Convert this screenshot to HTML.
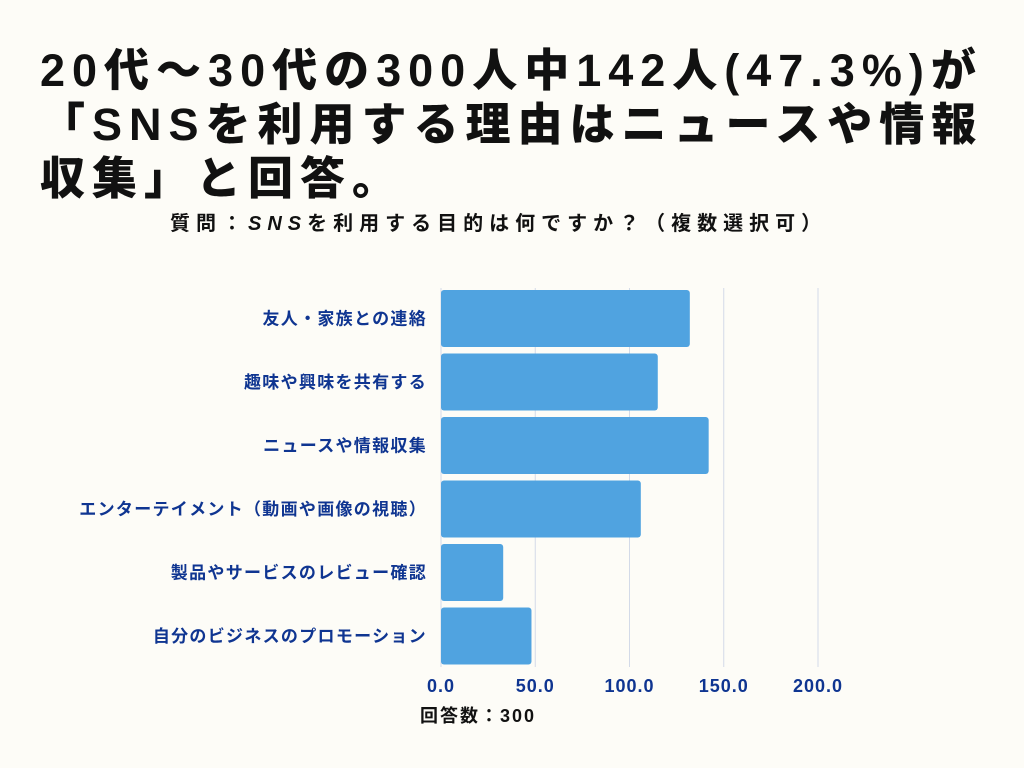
<!DOCTYPE html>
<html><head><meta charset="utf-8"><style>
body{margin:0;background:#fdfcf7;width:1024px;height:768px;overflow:hidden;font-family:"Liberation Sans","Noto Sans CJK JP",sans-serif}
h1{position:absolute;left:40px;top:44px;margin:0;font-size:45px;line-height:54px;font-weight:900;color:#111;letter-spacing:7px;width:1000px;white-space:nowrap}
.sub{position:absolute;left:170px;top:207px;font-size:20px;font-weight:bold;color:#111;letter-spacing:6px;white-space:nowrap}
</style></head><body>
<h1>20代～30代の300人中142人(47.3%)が<br>「SNSを利用する理由はニュースや情報<br>収集」と回答。</h1>
<div class="sub">質問：<i>SNS</i>を利用する目的は何ですか？（複数選択可）</div>
<svg id="chart" width="1024" height="768" style="position:absolute;left:0;top:0"></svg>
<script>
const categories=["友人・家族との連絡","趣味や興味を共有する","ニュースや情報収集","エンターテイメント（動画や画像の視聴）","製品やサービスのレビュー確認","自分のビジネスのプロモーション"];
const values=[132,115,142,106,33,48];
const ticks=[0,50,100,150,200];
const tickLabels=["0.0","50.0","100.0","150.0","200.0"];
const svg=document.getElementById('chart');
const NS='http://www.w3.org/2000/svg';
const x=v=>441+v*1.885;
const y0=290,step=63.5,bh=57;
function mk(t,a){const e=document.createElementNS(NS,t);for(const k in a)e.setAttribute(k,a[k]);svg.appendChild(e);return e;}
ticks.forEach((t,i)=>{
 const l=mk('line',{x1:x(t),x2:x(t),y1:288,y2:667,stroke:'#d3dae8','stroke-width':1});
 
 
 const tx=mk('text',{x:x(t),y:692,'text-anchor':'middle','font-size':18,'font-weight':'bold',fill:'#0f3591','letter-spacing':1});
 tx.textContent=tickLabels[i];
 
 
});
categories.forEach((c,i)=>{
 const yy=y0+i*step;
 const r=mk('rect',{x:x(0),y:yy,width:x(values[i])-x(0),height:bh,rx:3,fill:'#50a3e0'});
 
 
 const t=mk('text',{x:427,y:yy+bh/2+6,'text-anchor':'end','font-size':17,'font-weight':'bold',fill:'#0f3591','letter-spacing':1.3});
 t.textContent=c;
 
 
});
const at=mk('text',{x:420,y:722,'font-size':18,'font-weight':'bold',fill:'#111','letter-spacing':2});
at.textContent='回答数：300';


</script>
</body></html>
